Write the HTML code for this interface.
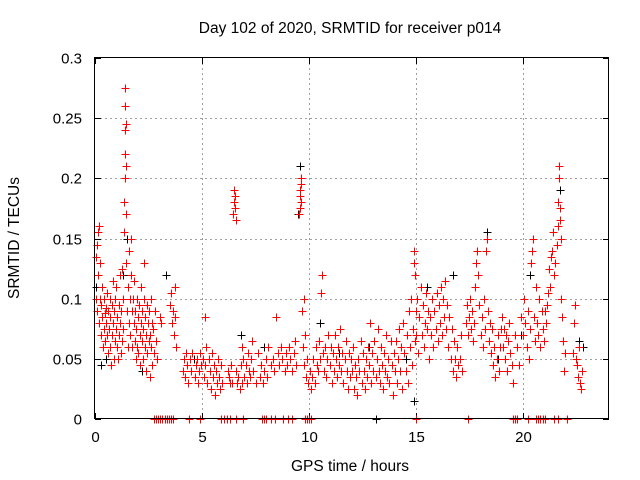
<!DOCTYPE html>
<html><head><meta charset="utf-8"><style>
body{margin:0;background:#fff;width:640px;height:480px;overflow:hidden}
svg{display:block;font-family:"Liberation Sans",sans-serif}
</style></head><body>
<svg id="chart" width="640" height="480" xmlns="http://www.w3.org/2000/svg">
<rect width="640" height="480" fill="#fff"/>
<text x="350" y="33" font-size="15.5" text-anchor="middle" fill="#000">Day 102 of 2020, SRMTID for receiver p014</text>
<text x="350" y="471" font-size="15.5" text-anchor="middle" fill="#000">GPS time / hours</text>
<text x="19" y="238" font-size="15.5" text-anchor="middle" fill="#000" transform="rotate(-90 19 238)">SRMTID / TECUs</text>
<g id="gridlayer"></g>
<g id="ticklayer"></g>
<g id="blacklayer"></g>
<g id="redlayer"></g>
<rect x="94.5" y="57.5" width="514" height="361" fill="none" stroke="#000" stroke-width="1"/>
</svg>
<script>
const xTicks=[0,5,10,15,20];
const yTicks=[0,0.05,0.1,0.15,0.2,0.25,0.3];
const yTickLabels=["0","0.05","0.1","0.15","0.2","0.25","0.3"];
const blackPoints=[[0.05,.11],[0.2,.16],[0.5,.05],[0.3,.045],[1.3,.12],[1.5,.15],[2.2,.04],[3.3,.12],[4.6,.05],[6.8,.07],[7.9,.06],[9.55,.21],[9.5,.17],[10.5,.08],[11.4,.055],[12.8,.06],[13.1,0],[14.5,.05],[14.9,.015],[15.5,.11],[16.7,.12],[18.3,.155],[18.8,.05],[19.9,.07],[20.3,.12],[21.7,.19],[22.6,.065],[22.8,.06]];
const redPoints=[
[0.03,.135],[0.05,.1],[0.08,.145],[0.1,.09],[0.12,.12],[0.15,.155],[0.17,.16],[0.2,.08],[0.22,.1],[0.25,.13],[0.27,.07],[0.3,.095],[0.33,.085],[0.35,.11],[0.38,.06],[0.4,.075],[0.42,.1],[0.45,.088],[0.48,.065],[0.5,.092],[0.53,.08],[0.55,.105],[0.58,.07],[0.6,.055],[0.62,.09],[0.65,.075],[0.68,.1],[0.7,.06],[0.72,.085],[0.75,.045],[0.78,.095],[0.8,.07],[0.83,.115],[0.85,.08],[0.88,.05],[0.9,.09],[0.93,.065],[0.95,.1],[0.98,.075],
[1.0,.11],[1.03,.06],[1.05,.085],[1.08,.05],[1.1,.095],[1.13,.07],[1.15,.12],[1.18,.08],[1.2,.055],[1.23,.09],[1.25,.125],[1.28,.065],[1.3,.1],[1.33,.075],[1.35,.155],[1.37,.18],[1.38,.2],[1.39,.22],[1.4,.24],[1.41,.26],[1.42,.275],[1.43,.245],[1.44,.21],[1.45,.17],[1.47,.13],[1.5,.09],[1.52,.06],[1.55,.11],[1.58,.08],[1.6,.14],[1.62,.1],[1.65,.07],[1.68,.12],[1.7,.15],[1.72,.09],[1.75,.06],[1.78,.1],[1.8,.08],[1.83,.115],[1.85,.065],[1.88,.09],[1.9,.05],[1.93,.075],[1.95,.1],[1.98,.06],
[2.0,.085],[2.03,.055],[2.05,.095],[2.08,.07],[2.1,.045],[2.13,.08],[2.15,.11],[2.18,.065],[2.2,.09],[2.23,.05],[2.25,.075],[2.28,.13],[2.3,.1],[2.33,.06],[2.35,.085],[2.38,.04],[2.4,.07],[2.43,.095],[2.45,.055],[2.48,.08],[2.5,.065],[2.53,.09],[2.55,.035],[2.58,.07],[2.6,.1],[2.63,.06],[2.65,.08],[2.68,.045],[2.7,.075],[2.75,.055],[2.8,.09],[2.85,.065],[2.9,.05],[3.05,.085],[3.1,.08],
[3.5,.095],[3.55,.105],[3.6,.08],[3.65,.09],[3.7,.07],[3.75,.085],[3.72,.11],[3.78,.06],
[4.1,.04],[4.15,.05],[4.2,.035],[4.25,.055],[4.3,.045],[4.35,.03],[4.45,.05],[4.5,.04],[4.55,.055],[4.65,.035],[4.7,.045],[4.75,.05],[4.8,.03],[4.85,.04],[4.9,.055],[4.95,.045],
[5.05,.05],[5.1,.035],[5.15,.045],[5.2,.06],[5.25,.03],[5.3,.05],[5.35,.04],[5.4,.025],[5.45,.055],[5.5,.035],[5.55,.045],[5.6,.02],[5.65,.04],[5.7,.03],[5.75,.05],[5.8,.035],[5.85,.025],[5.9,.045],[5.95,.03],[5.12,.085],
[6.2,.04],[6.25,.035],[6.3,.03],[6.35,.045],[6.4,.03],[6.45,.17],[6.47,.18],[6.5,.19],[6.52,.175],[6.55,.185],[6.58,.165],[6.6,.04],[6.65,.03],[6.7,.035],[6.75,.025],[6.8,.045],[6.85,.03],[6.9,.05],[6.95,.035],[6.88,.06],
[7.05,.045],[7.1,.03],[7.15,.055],[7.2,.04],[7.25,.035],[7.3,.05],[7.35,.065],[7.4,.04],[7.5,.03],[7.6,.055],[7.7,.035],[7.75,.045],[7.85,.03],[7.9,.04],
[8.0,.05],[8.05,.035],[8.1,.06],[8.2,.045],[8.3,.05],[8.35,.04],[8.45,.085],[8.55,.055],[8.6,.045],[8.7,.06],[8.75,.05],[8.85,.04],[8.9,.055],[8.95,.045],[9.05,.06],[9.1,.05],[9.2,.04],[9.3,.055],[9.35,.065],[9.4,.045],
[9.52,.17],[9.55,.185],[9.58,.19],[9.6,.195],[9.62,.2],[9.64,.18],[9.57,.175],[9.66,.09],[9.7,.06],[9.75,.1],[9.78,.045],[9.8,.07],[9.85,.035],[9.9,.05],[9.95,.03],
[10.05,.04],[10.1,.025],[10.15,.035],[10.2,.05],[10.25,.03],[10.3,.06],[10.35,.045],[10.4,.04],[10.45,.065],[10.5,.05],[10.55,.105],[10.6,.12],[10.65,.055],[10.7,.04],[10.75,.06],[10.8,.035],[10.85,.05],[10.9,.07],[10.95,.045],[11.0,.06],[11.05,.03],[11.1,.055],[11.15,.04],[11.2,.07],[11.25,.05],[11.3,.035],[11.35,.06],[11.4,.045],[11.45,.075],[11.5,.04],[11.55,.055],[11.6,.03],[11.65,.05],[11.7,.065],[11.75,.04],[11.8,.025],[11.85,.055],[11.9,.035],[11.95,.05],
[12.0,.04],[12.05,.06],[12.1,.025],[12.15,.045],[12.2,.035],[12.25,.02],[12.3,.05],[12.35,.04],[12.4,.065],[12.45,.03],[12.5,.055],[12.55,.04],[12.6,.025],[12.65,.05],[12.7,.035],[12.75,.06],[12.8,.045],[12.85,.08],[12.9,.03],[12.95,.055],[13.0,.04],[13.05,.065],[13.1,.035],[13.15,.05],[13.2,.075],[13.25,.04],[13.3,.03],[13.35,.06],[13.4,.045],[13.45,.025],[13.5,.055],[13.55,.04],[13.6,.07],[13.65,.035],[13.7,.05],[13.75,.03],[13.8,.065],[13.85,.045],[13.9,.02],[13.95,.055],
[14.0,.04],[14.05,.065],[14.1,.03],[14.15,.05],[14.2,.075],[14.25,.04],[14.3,.06],[14.35,.025],[14.4,.08],[14.45,.055],[14.5,.04],[14.55,.07],[14.6,.03],[14.65,.09],[14.7,.06],[14.75,.1],[14.8,.045],[14.85,.075],[14.88,.13],[14.9,.14],[14.92,.12],[14.95,.065],[14.98,.09],
[15.0,.07],[15.05,.1],[15.1,.055],[15.15,.085],[15.2,.11],[15.25,.07],[15.3,.095],[15.35,.06],[15.4,.08],[15.45,.105],[15.5,.075],[15.55,.09],[15.6,.05],[15.65,.085],[15.7,.07],[15.75,.1],[15.8,.06],[15.85,.09],[15.9,.075],[15.95,.105],[16.0,.065],[16.05,.095],[16.1,.08],[16.15,.11],[16.2,.07],[16.25,.1],[16.3,.085],[16.35,.115],[16.4,.075],[16.45,.095],[16.5,.06],[16.55,.085],[16.6,.05],[16.65,.075],[16.7,.04],[16.75,.065],[16.8,.05],[16.85,.035],[16.9,.06],[16.95,.045],
[17.05,.05],[17.1,.07],[17.15,.04],[17.3,.08],[17.35,.095],[17.4,.07],[17.45,.085],[17.5,.1],[17.55,.075],[17.6,.09],[17.65,.065],[17.7,.08],[17.75,.11],[17.8,.13],[17.85,.14],[17.9,.12],[17.95,.095],[18.0,.07],[18.05,.085],[18.1,.06],[18.15,.1],[18.2,.075],[18.25,.14],[18.3,.15],[18.35,.09],[18.4,.065],[18.45,.08],[18.5,.055],[18.55,.075],[18.6,.045],[18.65,.06],[18.7,.035],[18.75,.05],[18.8,.07],[18.85,.04],[18.9,.06],[18.95,.075],
[19.0,.085],[19.05,.06],[19.1,.075],[19.15,.05],[19.2,.07],[19.25,.04],[19.3,.065],[19.35,.08],[19.4,.055],[19.45,.045],[19.5,.03],[19.6,.07],[19.7,.06],[19.8,.045],[19.9,.085],
[20.0,.07],[20.05,.1],[20.1,.08],[20.15,.06],[20.2,.09],[20.25,.05],[20.3,.075],[20.35,.13],[20.4,.14],[20.45,.15],[20.5,.085],[20.55,.065],[20.6,.11],[20.65,.08],[20.7,.07],[20.75,.1],[20.8,.06],[20.85,.09],[20.9,.075],[20.95,.065],
[21.0,.09],[21.05,.08],[21.1,.095],[21.15,.105],[21.2,.125],[21.25,.11],[21.3,.135],[21.35,.14],[21.4,.155],[21.45,.12],[21.5,.13],[21.55,.145],[21.6,.16],[21.62,.18],[21.65,.21],[21.68,.2],[21.7,.175],[21.72,.165],[21.75,.15],[21.78,.1],[21.82,.085],[21.85,.065],[21.9,.04],[21.95,.055],
[22.3,.055],[22.35,.08],[22.4,.095],[22.45,.05],[22.5,.045],[22.55,.035],[22.6,.06],[22.65,.03],[22.7,.025],[22.75,.04]
];
const redZeroTimes=[2.75,2.85,2.95,3.05,3.15,3.25,3.35,3.45,3.55,3.65,4.4,4.9,5.9,6.0,6.15,6.3,6.6,6.9,7.8,7.9,8.0,8.2,8.4,8.8,9.0,9.2,9.8,9.9,10.0,10.1,15.0,17.4,19.5,19.6,19.7,20.2,20.6,20.7,20.8,20.9,21.0,21.45,21.6,22.05];

(function(){
const NS="http://www.w3.org/2000/svg";
const PL=95,PR=609,PT=58,PB=419;
const xs=t=>PL+t/24*(PR-PL);
const ys=v=>PB-v/0.3*(PB-PT);
const gridG=document.getElementById('gridlayer'),tickG=document.getElementById('ticklayer'),svgEl=document.getElementById('chart');
function mkLine(g,x1,y1,x2,y2,color,dash){const l=document.createElementNS(NS,'line');l.setAttribute('x1',x1);l.setAttribute('y1',y1);l.setAttribute('x2',x2);l.setAttribute('y2',y2);l.setAttribute('stroke',color);l.setAttribute('stroke-width','1');if(dash)l.setAttribute('stroke-dasharray',dash);g.appendChild(l);return l;}
function mkText(x,y,s,anchor){const t=document.createElementNS(NS,'text');t.setAttribute('x',x);t.setAttribute('y',y);t.setAttribute('font-size','15');t.setAttribute('fill','#000');t.setAttribute('text-anchor',anchor);t.textContent=s;svgEl.appendChild(t);return t;}
xTicks.forEach(v=>{const x=Math.round(xs(v))+0.5;
 if(v>0){const g=mkLine(gridG,x,PT,x,PB,'#a0a0a0','2,3');
  
  }
 mkLine(tickG,x,PB,x,PB-6,'#000');mkLine(tickG,x,PT,x,PT+6,'#000');
 const t=mkText(x,442,String(v),'middle');
 
 });
yTicks.forEach((v,i)=>{const y=Math.round(ys(v))+0.5;
 if(v>0&&v<0.3){const g=mkLine(gridG,PL,y,PR,y,'#a0a0a0','2,3');
  
  }
 mkLine(tickG,PL,y,PL+6,y,'#000');mkLine(tickG,PR,y,PR-6,y,'#000');
 const t=mkText(82,y+5,yTickLabels[i],'end');
 
 });
function cross(g,t,v,color){const x=Math.round(xs(t))+0.5,y=Math.round(ys(v))+0.5;const p=document.createElementNS(NS,'path');p.setAttribute('d','M'+(x-4)+' '+y+'H'+(x+4)+'M'+x+' '+(y-4)+'V'+(y+4));p.setAttribute('stroke',color);p.setAttribute('stroke-width','1');p.setAttribute('fill','none');
 
 
 g.appendChild(p);}
const bg=document.getElementById('blacklayer'),rg=document.getElementById('redlayer');
blackPoints.forEach(p=>cross(bg,p[0],p[1],'#000000'));
redPoints.forEach(p=>cross(rg,p[0],p[1],'#ff0000'));
redZeroTimes.forEach(t=>cross(rg,t,0,'#ff0000'));
})();
</script>
</body></html>
